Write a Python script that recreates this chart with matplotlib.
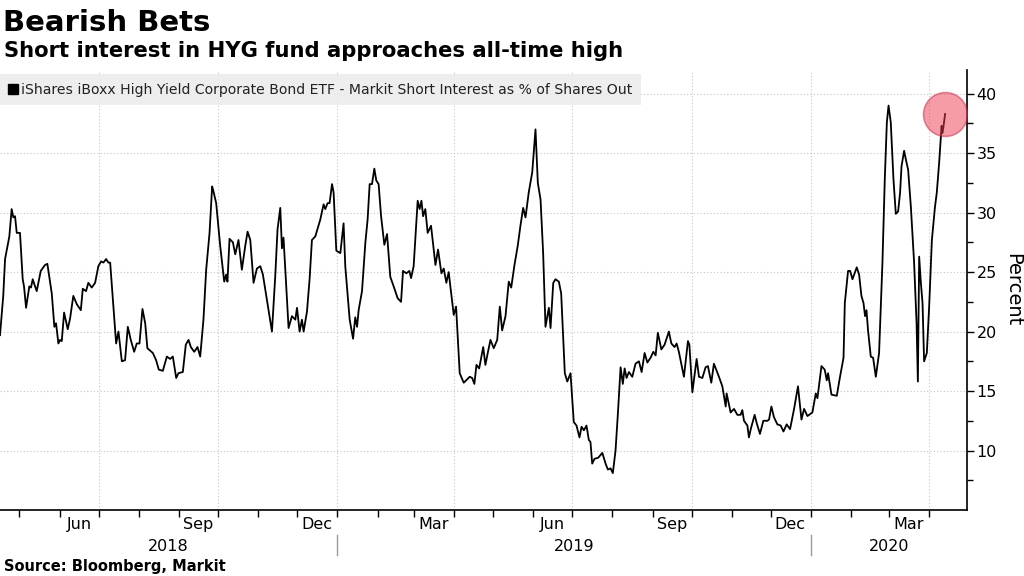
import matplotlib
matplotlib.use("Agg")
import matplotlib.pyplot as plt
import matplotlib.dates as mdates
from matplotlib.lines import Line2D
from matplotlib.transforms import blended_transform_factory
import numpy as np
import pandas as pd

# --- Datos: short interest HYG (% de acciones en circulación) ---
start_date = pd.Timestamp("2018-04-16")
days = [0, 2.5, 3.9, 7.2, 9.0, 10.3, 11.6, 12.9, 15.4, 17.5,
        18.5, 20.1, 22.6, 23.9, 25.2, 28.3, 31.4, 34.7, 36.5, 39.9,
        41.9, 43.2, 45.0, 46.3, 47.6, 49.4, 52.2, 54.0, 56.5, 59.2,
        62.3, 63.8, 66.3, 68.1, 70.7, 73.3, 75.8, 77.9, 79.7, 81.8,
        83.5, 84.9, 87.4, 89.5, 91.3, 93.9, 96.4, 98.5, 100.8, 103.4,
        105.4, 107.5, 109.8, 111.9, 113.6, 117.8, 120.3, 122.4, 125.5, 128.6,
        131.1, 133.2, 135.8, 137.5, 140.9, 143.2, 145.3, 147.1, 149.7, 152.2,
        154.3, 156.8, 158.9, 161.5, 163.5, 164.5, 166.6, 169.7, 172.8, 174.3,
        175.3, 176.9, 179.5, 181.3, 183.8, 186.4, 189.0, 190.8, 192.9, 195.4,
        198.0, 200.6, 202.6, 205.7, 209.6, 212.1, 213.9, 216.0, 217.3, 218.5,
        220.6, 222.4, 225.0, 227.6, 228.9, 230.9, 232.7, 234.0, 236.6, 238.6,
        240.4, 243.0, 246.8, 249.4, 250.7, 252.5, 254.0, 255.9, 257.1, 259.2,
        262.3, 264.8, 266.1, 269.5, 272.1, 273.8, 275.2, 276.4, 279.0, 281.6,
        283.3, 284.9, 286.7, 288.5, 290.0, 291.8, 293.7, 296.2, 298.3, 300.8,
        303.4, 306.5, 309.1, 310.6, 313.2, 315.5, 316.8, 318.8, 321.9, 323.4,
        324.8, 326.1, 327.8, 329.6, 332.2, 335.6, 337.6, 340.2, 342.0, 344.0,
        345.8, 349.7, 351.5, 354.3, 357.4, 362.0, 363.9, 365.6, 367.2, 369.3,
        372.4, 374.1, 375.9, 378.0, 380.5, 383.2, 385.2, 387.0, 389.6, 392.1,
        394.0, 396.5, 399.0, 401.1, 403.2, 405.0, 407.5, 410.2, 412.7, 414.5,
        416.6, 418.6, 420.4, 423.0, 424.3, 426.4, 428.1, 430.7, 432.5, 435.3,
        437.2, 439.7, 442.2, 444.3, 446.6, 448.2, 450.0, 452.0, 453.8, 455.1,
        456.4, 458.2, 461.1, 464.2, 466.7, 468.5, 470.6, 472.3, 474.4, 476.2,
        478.3, 480.0, 481.4, 482.9, 484.7, 487.3, 489.8, 492.4, 494.5, 496.8,
        498.9, 501.4, 503.5, 505.3, 507.0, 509.7, 512.2, 515.5, 517.4, 519.9,
        521.5, 523.2, 527.1, 530.2, 531.3, 533.6, 536.9, 538.7, 541.3, 543.8,
        545.6, 548.2, 550.2, 554.1, 556.7, 559.3, 560.0, 563.1, 565.7, 568.3,
        570.8, 572.1, 573.4, 576.0, 577.2, 578.6, 581.6, 583.2, 585.7, 588.3,
        591.4, 592.7, 594.5, 596.5, 599.1, 601.7, 603.8, 606.3, 608.9, 612.0,
        615.0, 617.7, 619.7, 622.3, 626.1, 628.7, 630.0, 633.1, 635.6, 637.2,
        638.2, 640.8, 644.9, 647.4, 650.1, 651.1, 653.6, 655.2, 657.0, 660.3,
        662.1, 663.9, 665.5, 666.7, 667.8, 669.0, 671.1, 672.9, 675.0, 677.5,
        680.1, 681.9, 683.5, 684.8, 686.5, 688.6, 690.4, 692.2, 693.7, 694.8,
        696.8, 698.1, 699.9, 702.0, 704.5, 706.4, 707.4, 708.4, 709.7, 711.0,
        712.2, 714.3, 716.1, 718.2, 720.5, 722.0, 723.8, 725.7, 726.4, 727.2, 728.4]
short_interest = [19.7, 23.0, 26.1, 28.0, 30.3, 29.6, 29.7, 28.3, 28.3, 24.4,
                  23.8, 22.0, 23.8, 23.7, 24.4, 23.4, 25.1, 25.6, 25.7, 23.2,
                  20.4, 20.7, 19.0, 19.3, 19.2, 21.6, 20.2, 21.1, 23.0, 22.3,
                  21.8, 23.6, 23.4, 24.1, 23.7, 24.1, 25.5, 25.9, 25.8, 26.1,
                  25.8, 25.8, 22.1, 19.0, 20.0, 17.5, 17.6, 20.4, 19.3, 18.3,
                  19.0, 19.0, 21.9, 20.7, 18.6, 18.2, 17.6, 16.8, 16.7, 17.9,
                  17.7, 17.9, 16.1, 16.5, 16.6, 18.9, 19.3, 18.7, 18.3, 18.7,
                  17.9, 21.0, 25.2, 28.3, 32.2, 31.8, 30.8, 27.2, 24.2, 24.8,
                  24.2, 27.8, 27.5, 26.5, 27.7, 25.2, 27.2, 28.4, 27.7, 24.1,
                  25.3, 25.5, 24.8, 22.7, 20.0, 24.6, 28.6, 30.4, 27.0, 27.9,
                  23.8, 20.3, 21.3, 21.0, 22.0, 20.0, 21.0, 20.0, 21.7, 24.4,
                  27.7, 28.0, 29.4, 30.7, 30.3, 30.8, 30.8, 32.4, 31.7, 26.8,
                  26.6, 29.1, 25.5, 21.0, 19.4, 21.2, 20.4, 21.8, 23.4, 27.5,
                  29.4, 32.4, 32.4, 33.7, 32.7, 32.4, 29.7, 27.3, 28.2, 24.6,
                  23.8, 22.8, 22.5, 25.1, 24.9, 25.1, 24.5, 25.5, 31.0, 30.3,
                  31.0, 29.7, 30.3, 28.3, 28.9, 25.6, 26.9, 24.9, 25.3, 24.1,
                  25.0, 21.4, 22.1, 16.5, 15.7, 16.2, 16.1, 15.6, 17.2, 16.9,
                  18.7, 17.2, 18.2, 19.3, 18.6, 19.3, 22.1, 20.1, 21.3, 24.2,
                  23.7, 25.6, 27.2, 28.9, 30.4, 29.6, 31.7, 33.4, 37.0, 32.5,
                  31.1, 26.6, 20.4, 22.0, 20.3, 24.1, 24.4, 24.2, 23.2, 16.5,
                  15.8, 16.5, 12.4, 12.1, 11.1, 12.0, 11.7, 12.1, 10.9, 10.7,
                  8.9, 9.3, 9.4, 9.8, 8.9, 8.4, 8.5, 8.1, 10.0, 13.1,
                  17.0, 15.6, 16.9, 16.1, 16.6, 16.2, 17.3, 17.5, 16.6, 18.2,
                  17.4, 17.8, 18.3, 18.0, 19.9, 18.5, 18.9, 20.0, 19.0, 18.7,
                  19.0, 18.3, 16.2, 19.2, 18.9, 14.9, 17.7, 16.2, 16.1, 17.0,
                  17.1, 15.7, 17.3, 16.2, 15.4, 13.7, 14.8, 13.2, 13.5, 13.0,
                  13.0, 13.4, 12.5, 12.1, 11.1, 11.8, 13.0, 12.3, 11.4, 12.5,
                  12.5, 12.6, 13.7, 12.8, 12.2, 12.1, 11.6, 12.2, 11.8, 13.5,
                  15.4, 12.6, 13.5, 12.9, 13.2, 14.8, 14.4, 17.1, 16.8, 15.9,
                  16.5, 14.7, 14.6, 16.2, 17.8, 22.4, 25.1, 25.1, 24.4, 25.4,
                  24.8, 23.0, 22.4, 21.3, 21.8, 20.1, 17.9, 17.8, 16.2, 18.2,
                  25.8, 32.8, 37.6, 39.0, 37.6, 32.8, 29.9, 30.1, 31.7, 33.9,
                  35.2, 34.5, 33.6, 30.5, 25.8, 20.7, 15.8, 26.3, 24.1, 22.4,
                  17.5, 18.2, 22.1, 27.7, 30.4, 31.7, 34.2, 37.3, 36.7, 37.3, 38.3]

y_ticks = [10, 15, 20, 25, 30, 35, 40]
month_labels = ["Jun", "Sep", "Dec", "Mar"]
years = ["2018", "2019", "2020"]

title = "Bearish Bets"
subtitle = "Short interest in HYG fund approaches all-time high"
legend_label = "iShares iBoxx High Yield Corporate Bond ETF - Markit Short Interest as % of Shares Out"
source = "Source: Bloomberg, Markit"

dates = start_date + pd.to_timedelta(days, unit="D")
x_min, x_max = pd.Timestamp("2018-04-16"), pd.Timestamp("2020-04-30")

# --- Figura ---
fig = plt.figure(figsize=(10.24, 5.76), dpi=100)
ax = fig.add_axes([0.0, 0.1146, 0.944, 0.764])

grid_kw = dict(color="#c4c4c4", linestyle=(0, (1, 2)), linewidth=0.8, zorder=1)

ax.plot(dates, short_interest, color="black", linewidth=1.3, zorder=3)

ax.set_xlim(x_min, x_max)
ax.set_ylim(5, 42)

# eje Y a la derecha
ax.yaxis.tick_right()
ax.yaxis.set_label_position("right")
ax.set_yticks(y_ticks)
ax.set_yticks(np.arange(7.5, 42, 5), minor=True)
ax.tick_params(axis="y", which="major", length=5, width=1, labelsize=11.5, pad=2)
ax.tick_params(axis="y", which="minor", length=4, width=1)
ax.set_ylabel("Percent", fontsize=14, rotation=-90, labelpad=18)
for yv in y_ticks:
    ax.axhline(yv, **grid_kw)

# eje X: ticks en cada inicio de mes, rejilla trimestral
ax.xaxis.set_major_locator(mdates.MonthLocator())
ax.xaxis.set_major_formatter(plt.NullFormatter())
ax.tick_params(axis="x", which="major", length=5, width=1)
for q in pd.date_range("2018-07-01", x_max, freq="QS"):
    ax.axvline(q, **grid_kw)

trans = blended_transform_factory(ax.transData, ax.transAxes)
for m in pd.date_range("2018-06-01", x_max, freq="MS"):
    if m.strftime("%b") in month_labels:
        ax.text(m + pd.Timedelta(days=15), -0.034, m.strftime("%b"), transform=trans,
                ha="center", va="center", fontsize=11.5)

# años centrados en el tramo visible, con separadores
year_edges = [x_min, pd.Timestamp("2019-01-01"), pd.Timestamp("2020-01-01"), x_max]
for i, yr in enumerate(years):
    mid = year_edges[i] + (year_edges[i + 1] - year_edges[i]) / 2
    ax.text(mid, -0.083, yr, transform=trans, ha="center", va="center", fontsize=11.5)
for edge in year_edges[1:3]:
    ax.plot([edge, edge], [-0.057, -0.102], transform=trans, color="#9a9a9a",
            linewidth=1, clip_on=False)

for side in ["left", "top"]:
    ax.spines[side].set_visible(False)
ax.spines["bottom"].set_linewidth(1.2)
ax.spines["right"].set_linewidth(1.2)

# circulo rojo en el ultimo dato
ax.scatter([dates[-1]], [short_interest[-1]], s=1000, facecolor="#ec3b52",
           edgecolor="#c02a3e", alpha=0.5, linewidth=1.2, zorder=4)

leg = ax.legend([Line2D([], [], marker="s", color="black", linestyle="none", markersize=7.5)],
                [legend_label], loc="upper left", bbox_to_anchor=(0.0, 0.99),
                frameon=True, fontsize=10.1, handlelength=0.6, handletextpad=0.3,
                borderpad=0.6, borderaxespad=0)
leg.get_frame().set_facecolor("#ececec")
leg.get_frame().set_edgecolor("none")
leg.get_frame().set_alpha(0.85)
leg.get_frame().set_boxstyle("square", pad=0)
leg.set_zorder(2)
for t in leg.get_texts():
    t.set_color("#222222")

fig.text(0.003, 0.946, title, fontsize=21, fontweight="bold", va="baseline")
fig.text(0.004, 0.901, subtitle, fontsize=15.2, fontweight="bold", va="baseline")
fig.text(0.004, 0.008, source, fontsize=10.5, fontweight="bold", va="baseline")

fig.savefig("out.png", dpi=100)
